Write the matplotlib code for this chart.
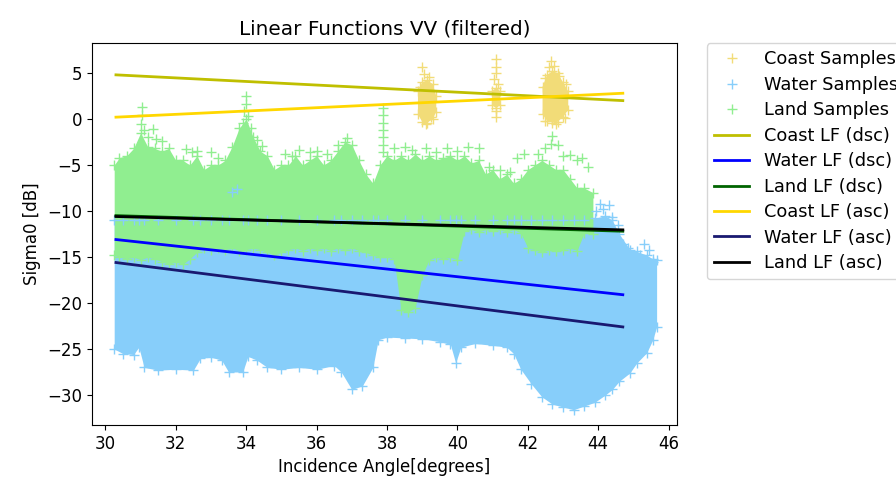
import numpy as np
import matplotlib
matplotlib.use("Agg")
import matplotlib.pyplot as plt

nan = np.nan

coast_x = [38.88, 39.0, 39.15, 39.3, 39.4, nan, 40.98, 41.1, 41.22, nan,
           42.42, 42.55, 42.7, 42.85, 43.0, 43.15]
coast_hi = [3.0, 4.0, 4.2, 3.8, 2.5, nan, 3.0, 3.4, 3.0, nan,
            3.5, 4.8, 5.2, 5.0, 4.0, 3.0]
coast_lo = [0.5, -0.3, -0.4, 0.0, 0.8, nan, 1.5, 1.2, 1.5, nan,
            0.5, -0.2, -0.4, -0.3, 0.2, 1.0]
coast_px = [39.0, 39.05, 39.2, 38.95, 39.1, 39.25, 41.1, 41.1, 41.1, 41.05,
            41.15, 41.1, 41.1, 42.65, 42.6, 42.75, 42.5, 42.9, 43.1, 42.5,
            42.8, 43.05]
coast_py = [5.6, 4.9, 4.6, 3.5, -0.5, 0.2, 6.5, 5.7, 5.0, 4.3,
            3.8, 0.9, 0.2, 6.3, 5.6, 5.8, 4.5, 4.7, 3.8, -0.2,
            -0.5, 0.1]

water_x = [30.25, 30.5, 30.8, 30.95, 31.1, 31.5, 32.0, 32.5, 32.7, 33.0,
           33.3, 33.5, 33.9, 34.05, 34.3, 34.6, 35.0, 35.5, 36.0, 36.5,
           36.7, 37.0, 37.3, 37.6, 37.75, 38.0, 38.5, 39.0, 39.5, 39.8,
           39.95, 40.1, 40.5, 41.0, 41.4, 41.6, 41.8, 42.1, 42.4, 42.7,
           43.0, 43.3, 43.6, 43.9, 44.2, 44.4, 44.6, 44.9, 45.1, 45.38,
           45.55, 45.66]
water_hi = [-11.0, -11.0, -11.0, -11.0, -11.0, -11.0, -11.0, -11.0, -11.0, -11.0,
            -11.0, -11.0, -11.0, -11.0, -11.0, -11.0, -11.0, -11.0, -11.0, -11.0,
            -11.0, -11.0, -11.0, -11.0, -11.0, -11.0, -11.0, -11.0, -11.0, -11.0,
            -11.0, -11.0, -11.0, -11.0, -11.0, -11.0, -11.0, -11.0, -11.0, -11.0,
            -11.0, -11.0, -11.0, -10.8, -10.5, -11.0, -12.5, -14.2, -14.4, -14.8,
            -15.2, -15.3]
water_lo = [-25.0, -25.5, -25.6, -24.8, -27.0, -27.3, -27.2, -27.3, -26.0, -25.9,
            -26.2, -27.5, -27.5, -25.8, -26.2, -27.0, -27.2, -27.0, -27.2, -26.8,
            -27.5, -29.4, -29.0, -27.0, -24.0, -23.7, -23.8, -23.9, -24.2, -24.5,
            -26.5, -24.8, -24.4, -24.6, -24.8, -25.5, -27.2, -28.8, -30.2, -31.0,
            -31.3, -31.6, -31.2, -30.8, -30.0, -29.4, -28.5, -27.6, -26.5, -25.4,
            -24.0, -22.6]
water_px = [43.95, 44.05, 44.15, 44.3, 44.4, 44.55, 44.7, 44.85, 45.2, 45.3,
            45.45, 45.55, 33.6, 33.75]
water_py = [-10.0, -9.2, -9.8, -9.3, -10.6, -11.5, -13.6, -14.0, -14.8, -13.6,
            -14.2, -15.5, -7.9, -7.6]

land_x = [30.25, 30.4, 30.6, 30.8, 31.0, 31.2, 31.4, 31.6, 31.8, 32.0,
          32.2, 32.4, 32.6, 32.8, 33.0, 33.2, 33.4, 33.6, 33.8, 34.0,
          34.2, 34.4, 34.6, 34.8, 35.0, 35.2, 35.4, 35.6, 35.8, 36.0,
          36.2, 36.4, 36.6, 36.8, 37.0, 37.2, 37.4, 37.6, 37.8, 38.0,
          38.2, 38.4, 38.6, 38.8, 39.0, 39.2, 39.4, 39.6, 39.8, 40.0,
          40.2, 40.4, 40.6, 40.8, 41.0, 41.2, 41.4, 41.6, 41.8, 42.0,
          42.2, 42.4, 42.6, 42.8, 43.0, 43.2, 43.4, 43.6, 43.85]
land_hi = [-5.0, -4.2, -4.0, -3.2, -1.5, -3.0, -3.2, -3.5, -3.2, -4.5,
           -4.5, -5.0, -4.0, -5.5, -5.0, -5.0, -4.5, -3.0, -1.0, 0.0,
           -2.0, -3.5, -4.0, -5.5, -5.0, -5.0, -4.0, -5.0, -4.5, -4.0,
           -5.0, -4.5, -3.5, -2.5, -2.8, -4.5, -6.0, -7.0, -5.0, -4.0,
           -4.5, -4.0, -4.5, -3.8, -4.5, -4.0, -4.5, -4.2, -4.0, -4.5,
           -4.0, -4.8, -4.5, -6.0, -5.5, -6.5, -6.0, -7.0, -6.5, -5.5,
           -5.0, -4.5, -5.0, -5.5, -5.5, -6.5, -7.5, -7.5, -8.0]
land_lo = [-14.8, -15.0, -15.2, -15.0, -15.3, -15.0, -15.2, -15.5, -15.8, -15.5,
           -15.8, -15.2, -14.5, -14.0, -14.2, -14.0, -14.2, -14.0, -14.3, -14.2,
           -14.0, -14.2, -14.5, -14.8, -14.5, -14.2, -14.0, -14.3, -14.0, -14.2,
           -14.0, -14.3, -14.0, -14.2, -14.0, -14.3, -14.5, -14.8, -15.0, -15.0,
           -15.2, -20.8, -21.0, -20.5, -17.0, -15.3, -15.0, -15.2, -15.0, -15.3,
           -12.2, -12.0, -12.3, -12.0, -12.2, -12.0, -12.3, -12.0, -12.4, -14.0,
           -14.2, -14.5, -14.2, -14.4, -14.2, -14.0, -14.3, -12.4, -12.5]
land_px = [31.05, 31.05, 31.0, 31.1, 31.2, 31.35, 31.45, 31.6, 32.3, 32.45,
           32.6, 33.0, 33.2, 34.0, 34.0, 33.95, 34.05, 33.9, 34.15, 34.3,
           34.45, 35.1, 35.3, 35.5, 35.8, 36.0, 36.3, 36.6, 36.85, 37.9,
           37.9, 37.9, 37.9, 37.9, 37.9, 37.9, 38.2, 38.5, 38.7, 39.1,
           39.4, 39.7, 40.0, 40.3, 40.6, 40.9, 41.2, 41.5, 41.7, 41.9,
           42.3, 42.5, 42.65, 42.7, 42.85, 43.0, 43.2, 43.4, 43.55, 43.7]
land_py = [1.3, 0.4, -0.5, -1.2, -2.0, -1.1, -2.2, -2.4, -3.3, -3.6,
           -3.5, -3.6, -4.2, 2.5, 1.6, 0.9, 0.3, -0.4, -1.0, -2.3,
           -2.9, -3.8, -4.0, -3.4, -3.6, -3.5, -3.8, -2.8, -2.1, 1.2,
           0.4, -0.4, -1.2, -2.0, -2.8, -3.6, -3.2, -3.0, -3.4, -3.1,
           -3.6, -3.1, -3.5, -3.0, -3.2, -5.2, -5.5, -5.8, -4.2, -3.8,
           -3.8, -3.2, -2.7, -1.9, -2.8, -4.0, -3.9, -4.5, -4.2, -5.2]

# --- fitted linear functions (end points) ---
lf_x = [30.3, 44.7]
coast_dsc = [4.8, 2.0]
water_dsc = [-13.1, -19.1]
land_dsc = [-10.5, -12.2]
coast_asc = [0.2, 2.8]
water_asc = [-15.6, -22.6]
land_asc = [-10.6, -12.05]

c_coast, c_water, c_land = "#f2dc78", "lightskyblue", "lightgreen"

fig = plt.figure(figsize=(8.96, 4.8), dpi=100)
ax = fig.add_axes([0.1023, 0.1146, 0.6537, 0.7952])

for xs, hi, lo, px, py, c, lab in (
        (coast_x, coast_hi, coast_lo, coast_px, coast_py, c_coast, "Coast Samples"),
        (water_x, water_hi, water_lo, water_px, water_py, c_water, "Water Samples"),
        (land_x, land_hi, land_lo, land_px, land_py, c_land, "Land Samples")):
    ax.fill_between(xs, lo, hi, color=c, lw=0)
    ax.plot(xs, hi, '+', color=c, ms=7)
    ax.plot(xs, lo, '+', color=c, ms=7)
    ax.plot(px, py, '+', color=c, ms=7, label=lab)

ax.plot(lf_x, coast_dsc, color="y", lw=2, label="Coast LF (dsc)")
ax.plot(lf_x, water_dsc, color="blue", lw=2, label="Water LF (dsc)")
ax.plot(lf_x, land_dsc, color="darkgreen", lw=2, label="Land LF (dsc)")
ax.plot(lf_x, coast_asc, color="gold", lw=2, label="Coast LF (asc)")
ax.plot(lf_x, water_asc, color="midnightblue", lw=2, label="Water LF (asc)")
ax.plot(lf_x, land_asc, color="black", lw=2, label="Land LF (asc)")

ax.set_xlim(29.61, 46.25)
ax.set_ylim(-33.26, 8.23)
ax.set_xticks([30, 32, 34, 36, 38, 40, 42, 44, 46])
ax.set_yticks([5, 0, -5, -10, -15, -20, -25, -30])
ax.tick_params(labelsize=12)
ax.set_title("Linear Functions VV (filtered)", fontsize=14.4)
ax.set_xlabel("Incidence Angle[degrees]", fontsize=12)
ax.set_ylabel("Sigma0 [dB]", fontsize=12)
ax.legend(loc="upper left", bbox_to_anchor=(1.05, 1), borderaxespad=0,
          fontsize=12.8, labelspacing=0.42)
plt.savefig("out.png", dpi=100)
